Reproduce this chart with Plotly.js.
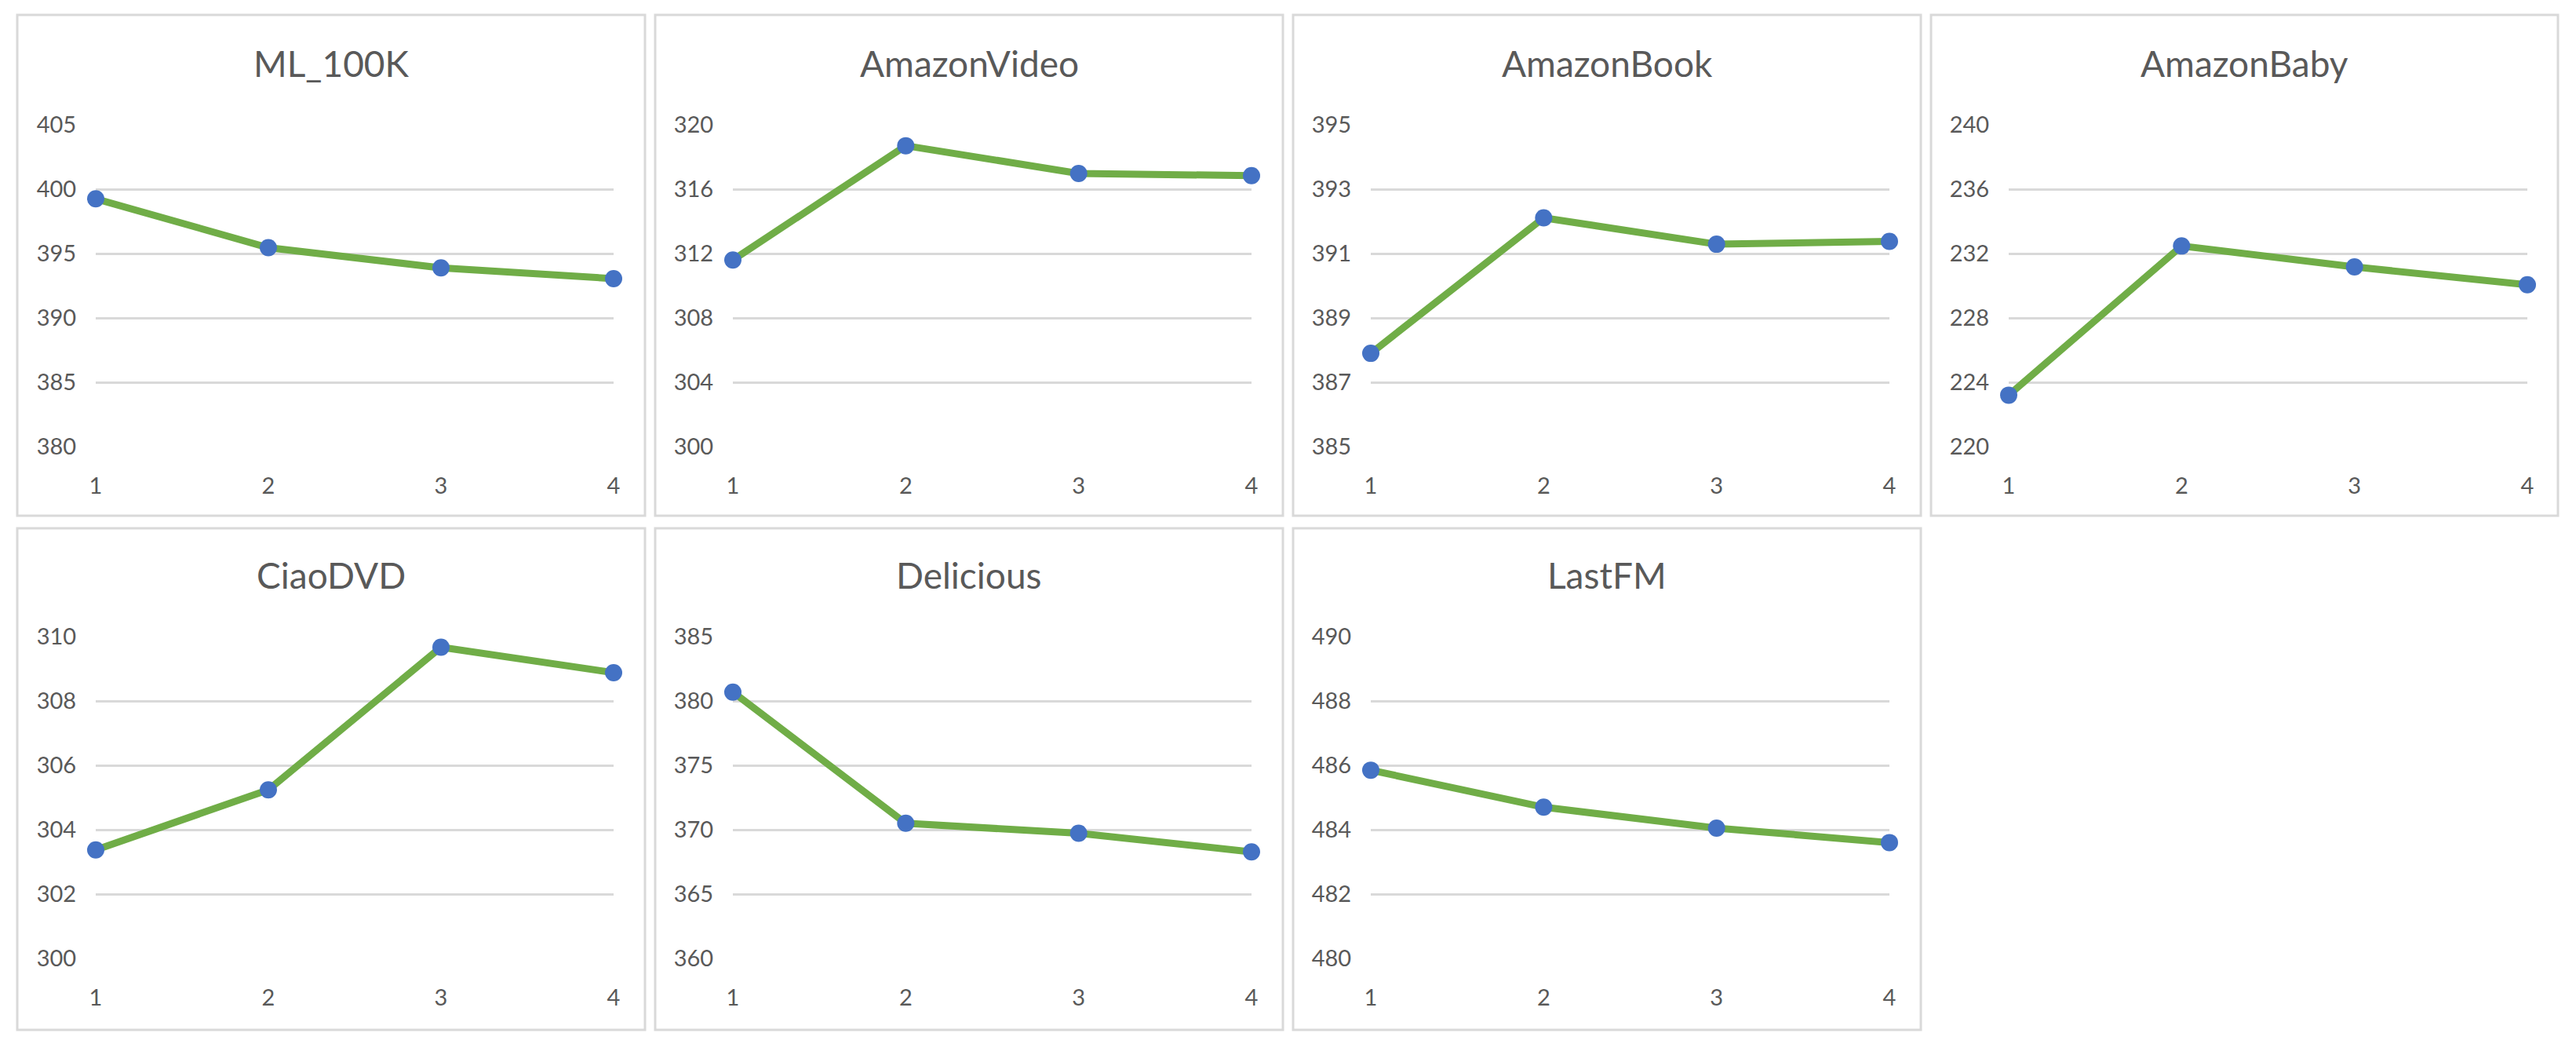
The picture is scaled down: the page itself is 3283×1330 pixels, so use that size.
<!DOCTYPE html>
<html>
<head>
<meta charset="utf-8">
<script src="https://cdn.plot.ly/plotly-3.0.1.min.js"></script>
<style>html,body{margin:0;padding:0;background:#fff;}#chart{width:3283px;height:1330px;}</style>
</head>
<body>
<div id="chart"></div>
<script>
// ---- data ----
const xValues = [1, 2, 3, 4];
const titles = ["ML_100K", "AmazonVideo", "AmazonBook", "AmazonBaby", "CiaoDVD", "Delicious", "LastFM"];
const ml100k      = [399.25, 395.46, 393.89, 393.05];
const amazonVideo = [311.6, 318.7, 316.98, 316.84];
const amazonBook  = [387.9, 392.11, 391.29, 391.38];
const amazonBaby  = [223.2, 232.47, 231.17, 230.06];
const ciaoDVD     = [303.37, 305.24, 309.67, 308.88];
const delicious   = [380.69, 370.5, 369.72, 368.28];
const lastFM      = [485.85, 484.7, 484.05, 483.6];
const yMin  = [380, 300, 385, 220, 300, 360, 480];
const yMax  = [405, 320, 395, 240, 310, 385, 490];
const yStep = [5, 4, 2, 4, 2, 5, 2];
const series = [ml100k, amazonVideo, amazonBook, amazonBaby, ciaoDVD, delicious, lastFM];

// ---- layout geometry (pixels) ----
const W = 3283, H = 1330;
const colPlot = [[122, 782], [934, 1595], [1747, 2408], [2560, 3221]];
const colBox  = [[22, 822], [835, 1635], [1648, 2448], [2461, 3260]];
const rowPlot = [[159, 569], [811, 1221]];
const rowBox  = [[19, 657], [673, 1312]];
const rowTitle = [80, 733];

const FONT = "Lato, 'Open Sans', sans-serif";
const TXT = "#595959";

const traces = [];
const layout = {
  width: W, height: H,
  margin: {l: 0, r: 0, t: 0, b: 0},
  paper_bgcolor: "#ffffff",
  plot_bgcolor: "#ffffff",
  showlegend: false,
  font: {family: FONT, color: TXT},
  shapes: [],
  annotations: []
};

series.forEach((vals, i) => {
  const r = i < 4 ? 0 : 1;
  const c = i < 4 ? i : i - 4;
  const n = i + 1;
  const sfx = n === 1 ? "" : String(n);
  traces.push({
    type: "scatter", mode: "lines+markers",
    x: xValues, y: vals,
    xaxis: "x" + sfx, yaxis: "y" + sfx,
    line: {color: "#70ad47", width: 9},
    marker: {color: "#4472c4", size: 22},
    cliponaxis: false,
    hoverinfo: "skip"
  });
  layout["xaxis" + sfx] = {
    domain: [colPlot[c][0] / W, colPlot[c][1] / W],
    range: [1, 4], tickvals: xValues, ticktext: xValues.map(String),
    showgrid: false, zeroline: false, showline: false,
    ticks: "outside", ticklen: 24, tickcolor: "rgba(0,0,0,0)",
    tickfont: {family: FONT, size: 29, color: TXT},
    anchor: "y" + sfx, fixedrange: true
  };
  layout["yaxis" + sfx] = {
    domain: [1 - rowPlot[r][1] / H, 1 - rowPlot[r][0] / H],
    range: [yMin[i], yMax[i]], tick0: yMin[i], dtick: yStep[i], tickmode: "linear",
    showgrid: true, gridcolor: "#d9d9d9", gridwidth: 3,
    zeroline: false, showline: false,
    ticks: "outside", ticklen: 18, tickcolor: "rgba(0,0,0,0)",
    tickfont: {family: FONT, size: 29, color: TXT},
    anchor: "x" + sfx, fixedrange: true
  };
  layout.shapes.push({
    type: "rect", xref: "paper", yref: "paper", layer: "below",
    x0: colBox[c][0] / W, x1: colBox[c][1] / W,
    y0: 1 - rowBox[r][1] / H, y1: 1 - rowBox[r][0] / H,
    line: {color: "#d9d9d9", width: 3}, fillcolor: "rgba(0,0,0,0)"
  });
  layout.annotations.push({
    xref: "paper", yref: "paper",
    x: (colBox[c][0] + colBox[c][1]) / 2 / W,
    y: 1 - rowTitle[r] / H,
    xanchor: "center", yanchor: "middle",
    text: titles[i], showarrow: false,
    font: {family: FONT, size: 46, color: TXT}
  });
});

Plotly.newPlot("chart", traces, layout, {staticPlot: true, displayModeBar: false});
</script>
</body>
</html>
